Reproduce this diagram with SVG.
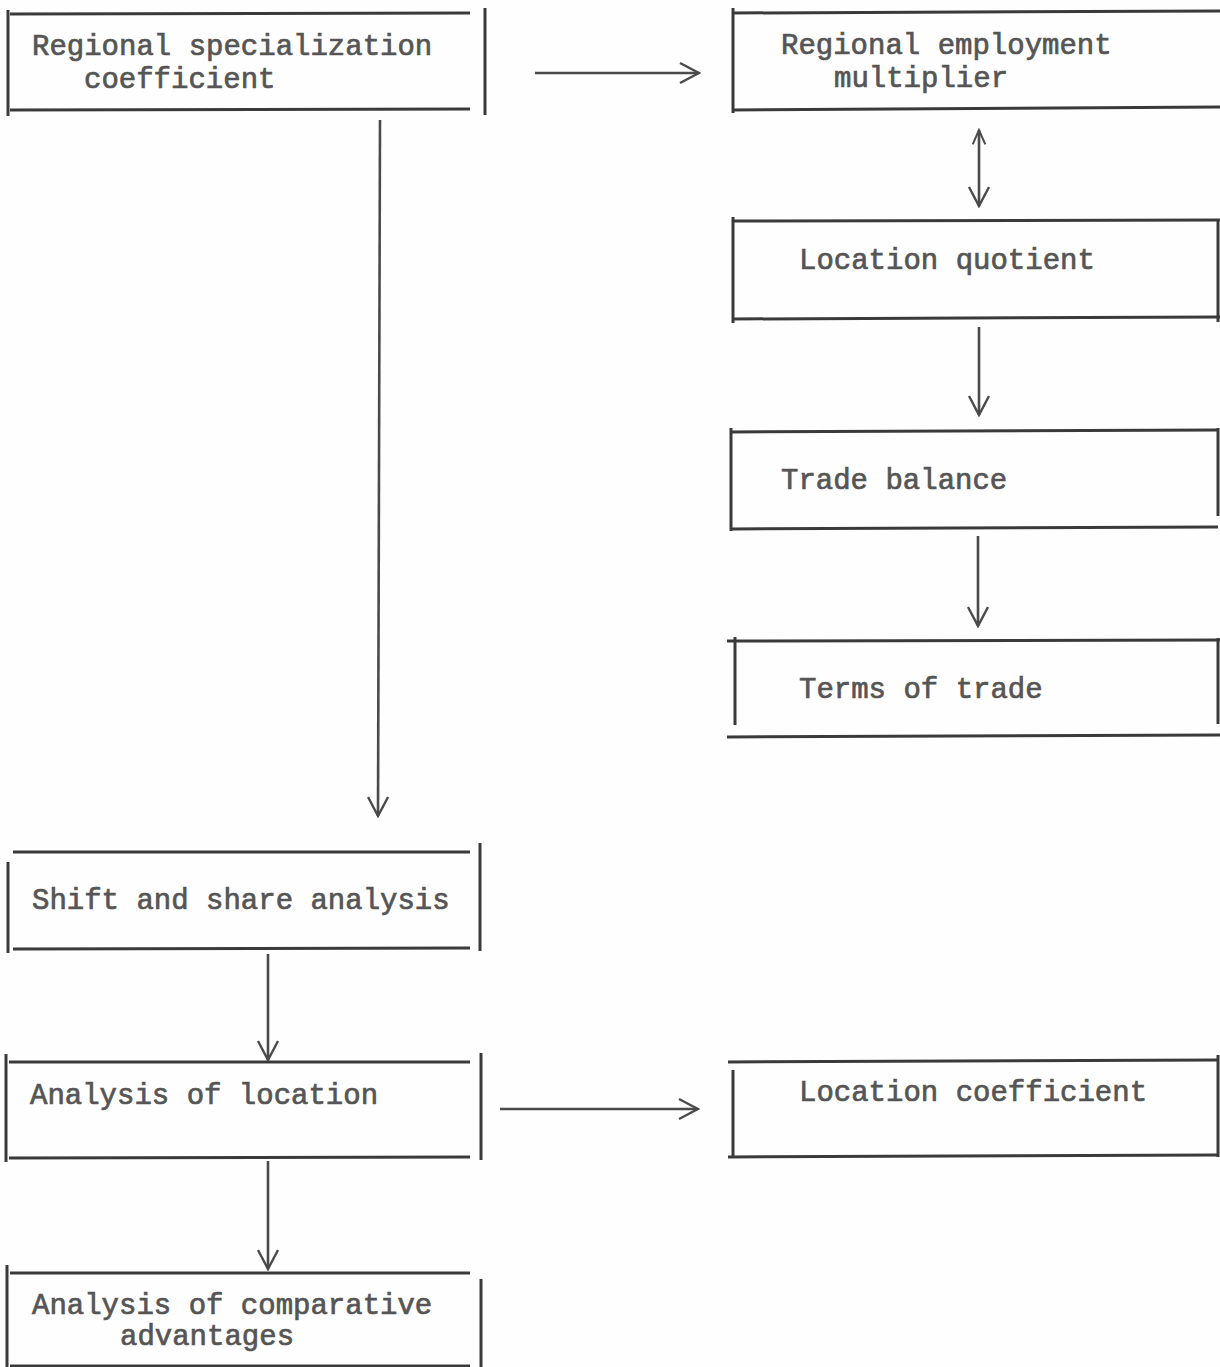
<svg xmlns="http://www.w3.org/2000/svg" width="1220" height="1367" viewBox="0 0 1220 1367">
<defs>
<style>
.bg{fill:#fefefe}
.ln{stroke:#3a3a3a;stroke-width:3;fill:none;stroke-linecap:butt}
.cn{stroke:#4a4a4a;stroke-width:2.6;fill:none}
.tx{font-family:"Liberation Mono","Courier New",monospace;font-size:29px;fill:#555555;stroke:#555555;stroke-width:0.7}
</style>
<marker id="ah" viewBox="0 0 24 24" refX="22" refY="12" markerWidth="24" markerHeight="24" markerUnits="userSpaceOnUse" orient="auto-start-reverse">
<path d="M3,2 L22,12 L3,22" fill="none" stroke="#4a4a4a" stroke-width="2.4"/>
</marker>
<marker id="ahs" viewBox="0 0 20 20" refX="18" refY="10" markerWidth="18" markerHeight="18" markerUnits="userSpaceOnUse" orient="auto-start-reverse">
<path d="M2,3 L18,10 L2,17" fill="none" stroke="#4a4a4a" stroke-width="2.2"/>
</marker>
</defs>
<rect class="bg" x="0" y="0" width="1220" height="1367"/>

<g id="connectors">
<line class="cn" x1="535" y1="73" x2="699" y2="73" marker-end="url(#ah)"/>
<line class="cn" x1="979" y1="130" x2="979" y2="206" marker-start="url(#ahs)" marker-end="url(#ah)"/>
<line class="cn" x1="979" y1="327" x2="979" y2="415" marker-end="url(#ah)"/>
<line class="cn" x1="978" y1="536" x2="978" y2="626" marker-end="url(#ah)"/>
<line class="cn" x1="380" y1="120" x2="378" y2="816" marker-end="url(#ah)"/>
<line class="cn" x1="268" y1="954" x2="268" y2="1060" marker-end="url(#ah)"/>
<line class="cn" x1="500" y1="1109" x2="698" y2="1109" marker-end="url(#ah)"/>
<line class="cn" x1="268" y1="1161" x2="268" y2="1269" marker-end="url(#ah)"/>
</g>

<g id="node-regional-specialization">
<line class="ln" x1="10" y1="14" x2="470" y2="13"/>
<line class="ln" x1="10" y1="110" x2="470" y2="109"/>
<line class="ln" x1="8" y1="10" x2="8" y2="116"/>
<line class="ln" x1="485" y1="8" x2="485" y2="115"/>
<text class="tx" x="32" y="55">Regional specialization</text>
<text class="tx" x="84" y="88">coefficient</text>
</g>

<g id="node-employment-multiplier">
<line class="ln" x1="733" y1="13" x2="1220" y2="11"/>
<line class="ln" x1="733" y1="110" x2="1220" y2="107"/>
<line class="ln" x1="733" y1="8" x2="733" y2="113"/>
<text class="tx" x="781" y="54">Regional employment</text>
<text class="tx" x="834" y="87">multiplier</text>
</g>

<g id="node-location-quotient">
<line class="ln" x1="732" y1="221" x2="1220" y2="220"/>
<line class="ln" x1="732" y1="319" x2="1220" y2="317"/>
<line class="ln" x1="733" y1="217" x2="733" y2="323"/>
<line class="ln" x1="1218" y1="220" x2="1218" y2="322"/>
<text class="tx" x="799" y="269">Location quotient</text>
</g>

<g id="node-trade-balance">
<line class="ln" x1="731" y1="432" x2="1218" y2="430"/>
<line class="ln" x1="731" y1="529" x2="1218" y2="527"/>
<line class="ln" x1="731" y1="428" x2="731" y2="531"/>
<line class="ln" x1="1218" y1="428" x2="1218" y2="516"/>
<text class="tx" x="781" y="489">Trade balance</text>
</g>

<g id="node-terms-of-trade">
<line class="ln" x1="727" y1="641" x2="1220" y2="640"/>
<line class="ln" x1="727" y1="737" x2="1220" y2="735"/>
<line class="ln" x1="735" y1="637" x2="735" y2="725"/>
<line class="ln" x1="1218" y1="638" x2="1218" y2="724"/>
<text class="tx" x="799" y="698">Terms of trade</text>
</g>

<g id="node-shift-share">
<line class="ln" x1="13" y1="852" x2="470" y2="852"/>
<line class="ln" x1="13" y1="949" x2="470" y2="948"/>
<line class="ln" x1="8" y1="862" x2="8" y2="953"/>
<line class="ln" x1="480" y1="843" x2="480" y2="951"/>
<text class="tx" x="32" y="909">Shift and share analysis</text>
</g>

<g id="node-analysis-location">
<line class="ln" x1="9" y1="1062" x2="470" y2="1062"/>
<line class="ln" x1="9" y1="1158" x2="470" y2="1157"/>
<line class="ln" x1="6" y1="1054" x2="6" y2="1162"/>
<line class="ln" x1="481" y1="1053" x2="481" y2="1160"/>
<text class="tx" x="30" y="1104">Analysis of location</text>
</g>

<g id="node-location-coefficient">
<line class="ln" x1="728" y1="1062" x2="1218" y2="1060"/>
<line class="ln" x1="728" y1="1157" x2="1218" y2="1155"/>
<line class="ln" x1="733" y1="1070" x2="733" y2="1157"/>
<line class="ln" x1="1218" y1="1055" x2="1218" y2="1157"/>
<text class="tx" x="799" y="1101">Location coefficient</text>
</g>

<g id="node-comparative-advantages">
<line class="ln" x1="10" y1="1273" x2="470" y2="1273"/>
<line class="ln" x1="10" y1="1366" x2="470" y2="1366"/>
<line class="ln" x1="7" y1="1265" x2="7" y2="1367"/>
<line class="ln" x1="481" y1="1279" x2="481" y2="1367"/>
<text class="tx" x="32" y="1314">Analysis of comparative</text>
<text class="tx" x="120" y="1345">advantages</text>
</g>
</svg>
